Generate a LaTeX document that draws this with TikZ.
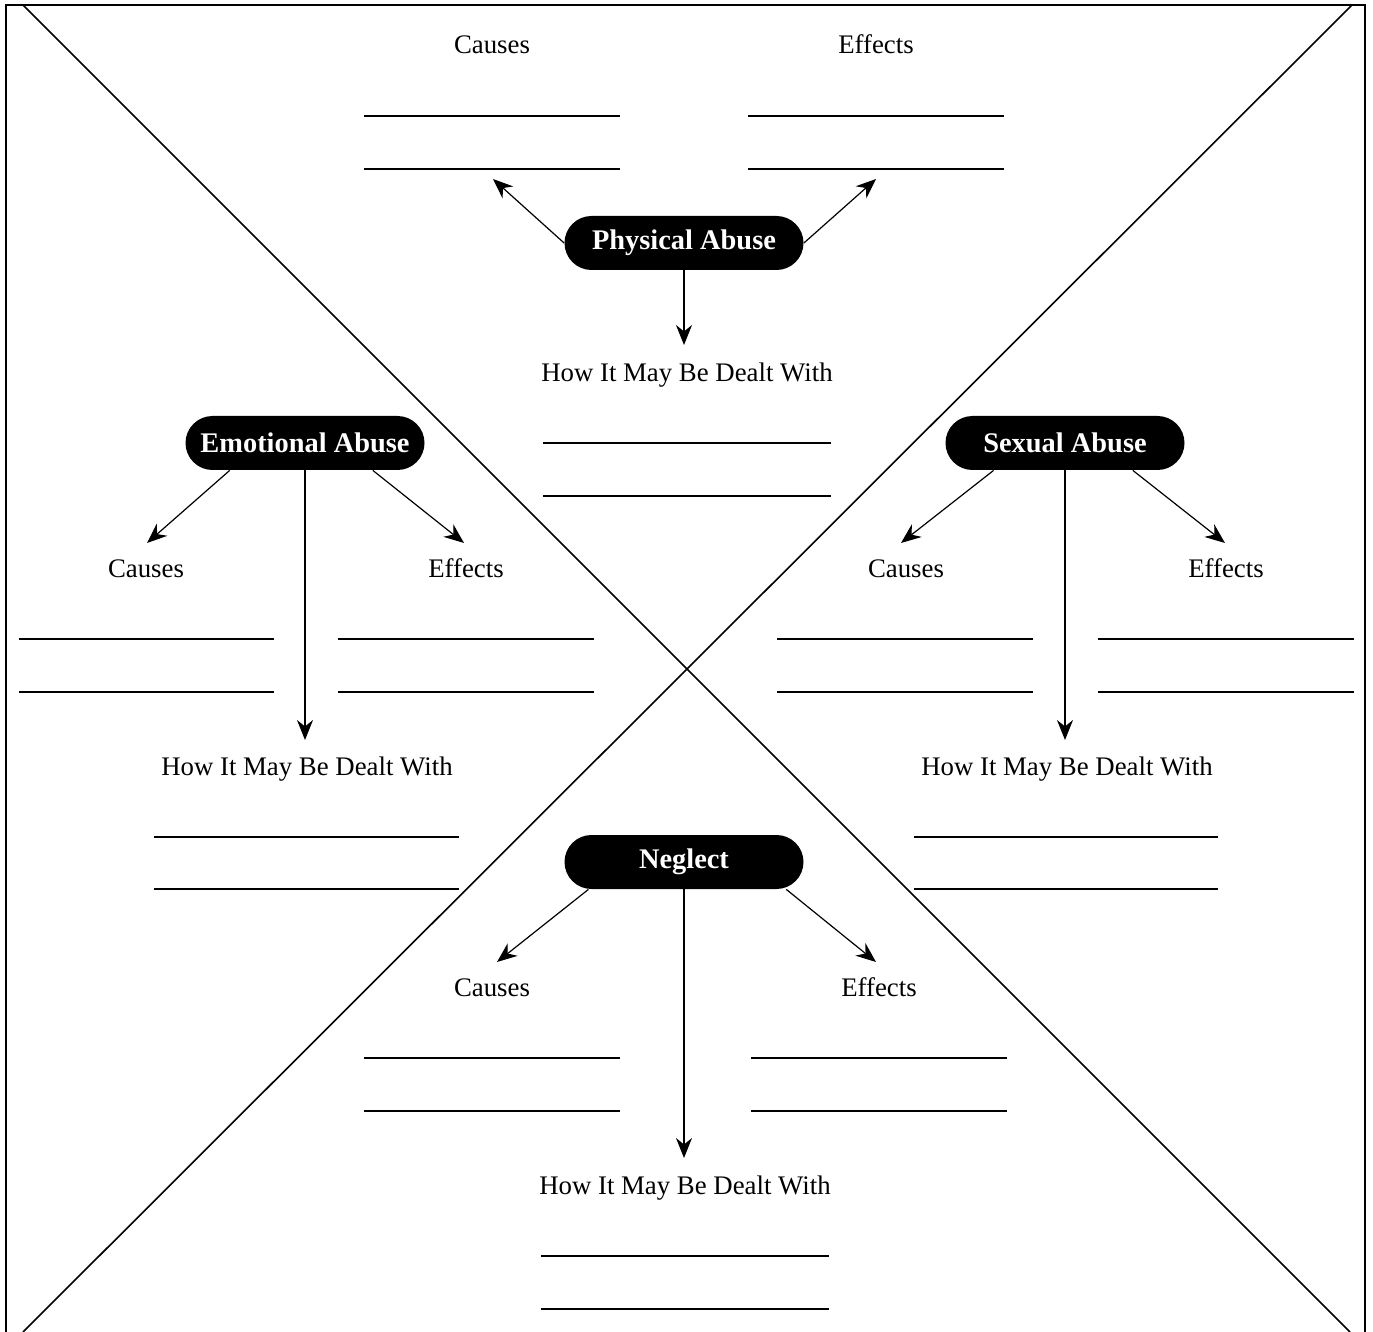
\documentclass[tikz,border=0pt]{standalone}
\usepackage{fontspec}
\setmainfont{Liberation Serif}
\usetikzlibrary{positioning,arrows.meta}

\begin{document}
\begin{tikzpicture}[x=0.5pt,y=-0.5pt,>={Stealth[length=10pt,width=8pt]},
		topic/.style={shape=rectangle,fill=black,text=white,rounded corners=13.5pt,
		minimum width=119.5pt,minimum height=27pt,inner sep=0pt,
		font=\fontsize{14.2}{16}\selectfont\bfseries},
		lbl/.style={anchor=base,inner sep=0pt,font=\fontsize{13.4}{16}\selectfont},
		blank/.style={line width=1.1pt},
		conn/.style={->,line width=0.6pt}]
		\useasboundingbox (0,0) rectangle (1373,1332);

		% frame and the two diagonals
		\draw[line width=0.8pt] (6,1332) -- (6,5) -- (1365,5) -- (1365,1332);
		\draw[line width=0.8pt] (23,5) -- (1350,1332);
		\draw[line width=0.8pt] (1352,5) -- (23,1332);

		% create the nodes.
		\node[topic] (phys) at (684,243) {Physical Abuse};
		\node[topic] (emo) at (305,443) {Emotional Abuse};
		\node[topic] (sex) at (1065,443) {Sexual Abuse};
		\node[topic] (negl) at (684,862) {Neglect};

		\node[lbl] (physcause) at (492,54) {Causes};
		\node[lbl] (physeffect) at (876,54) {Effects};
		\node[lbl] (physdeal) at (687,382) {How It May Be Dealt With};
		\node[lbl] (emocause) at (146,578) {Causes};
		\node[lbl] (emoeffect) at (466,578) {Effects};
		\node[lbl] (emodeal) at (307,775) {How It May Be Dealt With};
		\node[lbl] (sexcause) at (906,578) {Causes};
		\node[lbl] (sexeffect) at (1226,578) {Effects};
		\node[lbl] (sexdeal) at (1067,775) {How It May Be Dealt With};
		\node[lbl] (neglcause) at (492,996) {Causes};
		\node[lbl] (negleffect) at (879,996) {Effects};
		\node[lbl] (negldeal) at (685,1194) {How It May Be Dealt With};

		% arrow ends
		\coordinate (physc) at (493,179);
		\coordinate (physe) at (876,179);
		\coordinate (physd) at (684,345);
		\coordinate (emoc) at (147,543);
		\coordinate (emoe) at (464,543);
		\coordinate (emod) at (305,740);
		\coordinate (sexc) at (901,543);
		\coordinate (sexe) at (1225,543);
		\coordinate (sexd) at (1065,740);
		\coordinate (neglc) at (497,962);
		\coordinate (negle) at (876,962);
		\coordinate (negld) at (684,1158);

		% connect the nodes
		\draw[conn] (phys.west) -- (physc);
		\draw[conn] (phys.east) -- (physe);
		\draw[conn] (phys.south) -- (physd);
		\draw[conn] (emo.200) -- (emoc);
		\draw[conn] (emo.338) -- (emoe);
		\draw[conn] (emo.south) -- (emod);
		\draw[conn] (sex.201) -- (sexc);
		\draw[conn] (sex.338) -- (sexe);
		\draw[conn] (sex.south) -- (sexd);
		\draw[conn] (negl.196) -- (neglc);
		\draw[conn] (negl.345) -- (negle);
		\draw[conn] (negl.south) -- (negld);

		% blanks to write on
		\draw[blank] (364,116) -- (620,116) (364,169) -- (620,169);
		\draw[blank] (748,116) -- (1004,116) (748,169) -- (1004,169);
		\draw[blank] (543,443) -- (831,443) (543,496) -- (831,496);
		\draw[blank] (19,639) -- (274,639) (19,692) -- (274,692);
		\draw[blank] (338,639) -- (594,639) (338,692) -- (594,692);
		\draw[blank] (154,837) -- (459,837) (154,889) -- (459,889);
		\draw[blank] (777,639) -- (1033,639) (777,692) -- (1033,692);
		\draw[blank] (1098,639) -- (1354,639) (1098,692) -- (1354,692);
		\draw[blank] (914,837) -- (1218,837) (914,889) -- (1218,889);
		\draw[blank] (364,1058) -- (620,1058) (364,1111) -- (620,1111);
		\draw[blank] (751,1058) -- (1007,1058) (751,1111) -- (1007,1111);
		\draw[blank] (541,1256) -- (829,1256) (541,1309) -- (829,1309);
	\end{tikzpicture}
\end{document}
